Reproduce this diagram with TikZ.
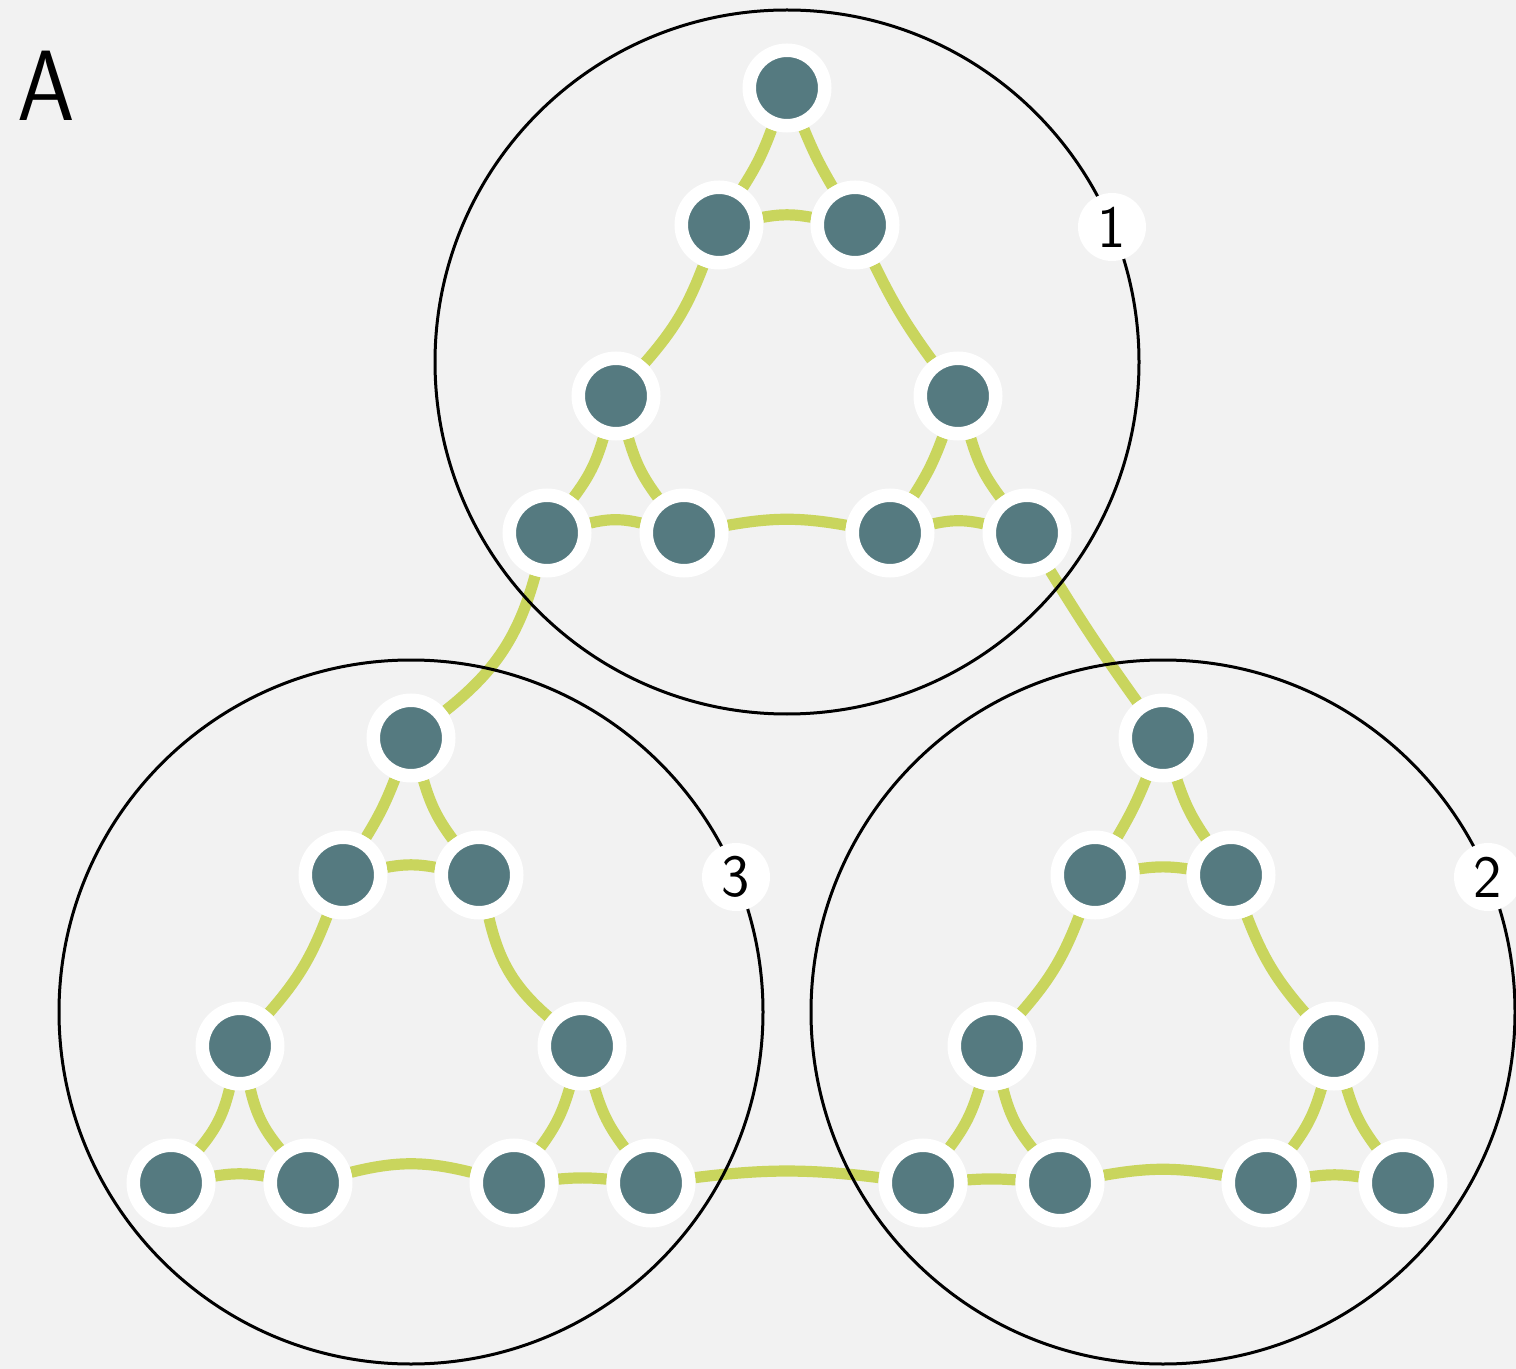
\documentclass[tikz,border=0pt]{standalone}
\pgfdeclarelayer{bg}
\pgfdeclarelayer{links}
\pgfdeclarelayer{rings}
\pgfsetlayers{bg,links,rings,main}
\definecolor{bgcol}{HTML}{F2F2F2}
\definecolor{teal1}{RGB}{85,122,128}
\definecolor{lime1}{RGB}{201,213,93}
\newcommand\makegroup[4]{%
  \begin{scope}[shift={(#2,#3)}]
    \node[vtx] (#1t) at (0,274) {};
    \node[vtx] (#1l) at (-68,137) {};
    \node[vtx] (#1r) at (68,137) {};
    \node[vtx] (#1a) at (-171,-34) {};
    \node[vtx] (#1b) at (171,-34) {};
    \node[vtx] (#1p) at (-240,-171) {};
    \node[vtx] (#1q) at (-103,-171) {};
    \node[vtx] (#1u) at (103,-171) {};
    \node[vtx] (#1v) at (240,-171) {};
    \node[tag] (#1lab) at (325,135) {#4};
    \begin{pgfonlayer}{rings}
      \draw[ring] (0,0) circle[radius=352];
    \end{pgfonlayer}
  \end{scope}}
\begin{document}
\begin{tikzpicture}[x=0.5pt,y=0.5pt,
  vtx/.style={circle, fill=teal1, draw=white, line width=6.75pt, minimum size=37.75pt, inner sep=0pt},
  lnk/.style={draw=lime1, line width=5.6pt},
  ring/.style={draw=black, line width=1.5pt},
  tag/.style={circle, fill=white, minimum size=34pt, inner sep=0pt, font=\sffamily\fontsize{30}{36}\selectfont}]
\useasboundingbox (0,0) rectangle (1516,-1369);
\begin{pgfonlayer}{bg}
  \fill[bgcol] (0,0) rectangle (1516,-1369);
\end{pgfonlayer}
\node[font=\sffamily\fontsize{50}{60}\selectfont, inner sep=0pt, xscale=0.92] (lblA) at (46,-86) {A};
\makegroup{ga}{787}{-362}{1}
\makegroup{gc}{411}{-1012}{3}
\makegroup{gb}{1163}{-1012}{2}
\begin{pgfonlayer}{links}
  % group 1
  \draw[lnk] (gat) to[bend left=6] (gal);
  \draw[lnk] (gal) to[bend left=10] (gar);
  \draw[lnk] (gar) to[bend left=4] (gat);
  \draw[lnk] (gaa) to[bend left=10] (gap);
  \draw[lnk] (gap) to[bend left=13] (gaq);
  \draw[lnk] (gaq) to[bend left=10] (gaa);
  \draw[lnk] (gab) to[bend left=6] (gau);
  \draw[lnk] (gau) to[bend left=12] (gav);
  \draw[lnk] (gav) to[bend left=10] (gab);
  \draw[lnk] (gal) to[bend left=10] (gaa);
  \draw[lnk] (gaq) to[bend left=10] (gau);
  \draw[lnk] (gab) to[bend left=5] (gar);
  % group 3
  \draw[lnk] (gct) to[bend left=5] (gcl);
  \draw[lnk] (gcl) to[bend left=10] (gcr);
  \draw[lnk] (gcr) to[bend left=10] (gct);
  \draw[lnk] (gca) to[bend left=13] (gcp);
  \draw[lnk] (gcp) to[bend left=9] (gcq);
  \draw[lnk] (gcq) to[bend left=13] (gca);
  \draw[lnk] (gcb) to[bend left=10] (gcu);
  \draw[lnk] (gcu) to[bend left=5] (gcv);
  \draw[lnk] (gcv) to[bend left=10] (gcb);
  \draw[lnk] (gcl) to[bend left=10] (gca);
  \draw[lnk] (gcq) to[bend left=14] (gcu);
  \draw[lnk] (gcb) to[bend left=18] (gcr);
  % group 2
  \draw[lnk] (gbt) to[bend left=4] (gbl);
  \draw[lnk] (gbl) to[bend left=8] (gbr);
  \draw[lnk] (gbr) to[bend left=8] (gbt);
  \draw[lnk] (gba) to[bend left=10] (gbp);
  \draw[lnk] (gbp) to[bend left=4] (gbq);
  \draw[lnk] (gbq) to[bend left=12] (gba);
  \draw[lnk] (gbb) to[bend left=10] (gbu);
  \draw[lnk] (gbu) to[bend left=8] (gbv);
  \draw[lnk] (gbv) to[bend left=10] (gbb);
  \draw[lnk] (gbl) to[bend left=10] (gba);
  \draw[lnk] (gbq) to[bend left=10] (gbu);
  \draw[lnk] (gbb) to[bend left=10] (gbr);
  % between groups
  \draw[lnk] (gap) to[bend left=18] (gct);
  \draw[lnk] (gcv) to[bend left=7] (gbp);
  \draw[lnk] (gbt) to[bend left=2] (gav);
\end{pgfonlayer}
\end{tikzpicture}
\end{document}
